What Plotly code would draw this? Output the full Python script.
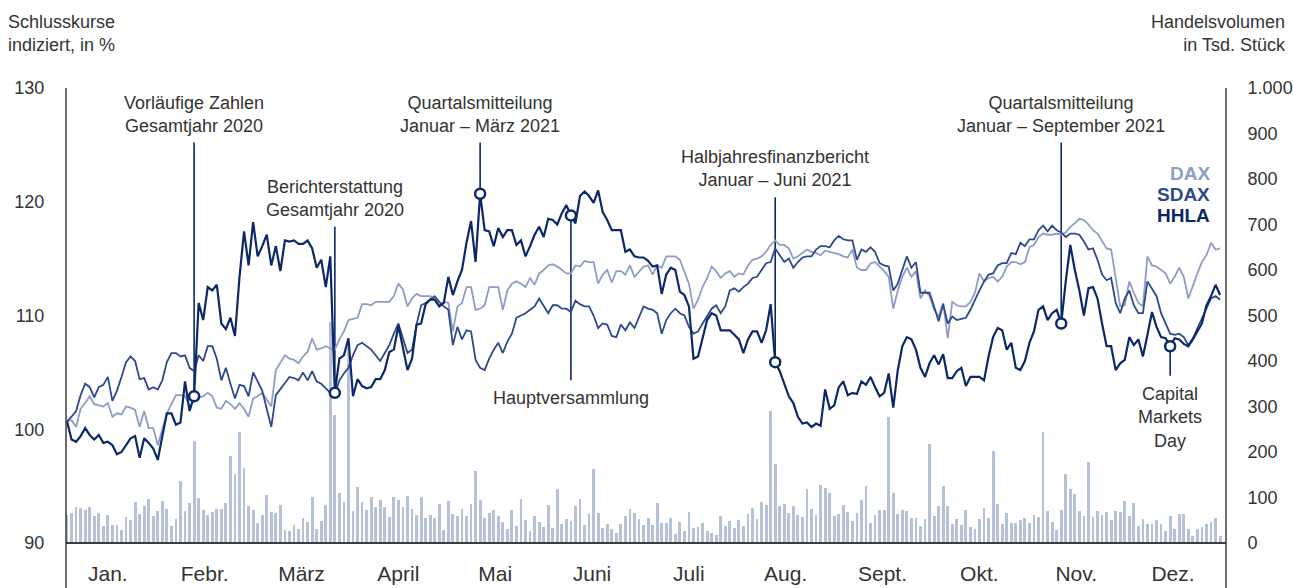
import plotly.graph_objects as go

# ---------------- data (index values in %, trading days of 2021) ----------------
hhla = [
    100.7, 99.1, 98.9, 99.4, 100.1, 99.5, 99.1, 99.5, 98.8, 98.9,
    98.6, 97.8, 98.0, 98.6, 99.2, 99.4, 97.5, 99.2, 98.8, 98.3,
    97.3, 99.4, 101.4, 101.4, 100.4, 100.6, 104.2, 101.6, 102.9, 111.1,
    109.6, 112.5, 112.2, 112.7, 109.3, 108.8, 109.8, 108.2, 113.4, 117.4,
    114.4, 118.2, 115.2, 116.1, 117.1, 114.4, 116.1, 113.9, 116.6, 116.5,
    116.6, 116.3, 116.3, 116.6, 115.9, 114.2, 114.9, 112.5, 115.2, 103.2,
    106.2, 106.5, 108.0, 102.9, 104.4, 103.8, 103.6, 103.7, 104.4, 104.4,
    105.2, 106.8, 107.0, 109.1, 107.3, 105.2, 106.2, 109.2, 109.3, 111.0,
    111.4, 111.4, 110.8, 111.1, 113.4, 111.8, 113.0, 114.0, 116.4, 118.3,
    114.7, 120.7, 117.5, 117.4, 116.1, 117.7, 116.9, 117.5, 117.5, 116.2,
    116.6, 115.2, 116.1, 117.1, 117.8, 116.9, 118.5, 118.4, 118.0, 119.0,
    119.7, 118.8, 118.1, 120.5, 120.9, 120.5, 119.9, 121.0, 119.1, 118.4,
    117.5, 117.5, 117.5, 115.6, 115.8, 115.2, 115.1, 115.1, 114.8, 114.3,
    114.4, 111.9, 113.6, 114.2, 114.0, 112.1, 111.8, 110.8, 106.2, 106.4,
    108.1, 109.6, 110.2, 110.0, 108.7, 108.7, 108.7, 108.3, 107.9, 106.7,
    107.9, 108.6, 108.6, 107.6, 108.7, 111.0, 105.9, 105.1, 104.0, 102.9,
    102.3, 101.1, 100.5, 100.6, 100.2, 100.5, 100.3, 103.5, 101.8, 102.1,
    103.7, 104.2, 103.0, 103.2, 103.1, 104.2, 103.9, 104.6, 103.7, 102.9,
    103.2, 104.9, 101.9, 105.2, 107.3, 108.1, 107.9, 107.0, 105.4, 104.6,
    105.8, 106.5, 105.7, 106.6, 104.5, 104.5, 105.1, 105.4, 103.8, 104.6,
    104.6, 104.6, 104.3, 106.4, 108.1, 108.9, 108.7, 107.0, 107.6, 105.4,
    105.2, 106.0, 107.6, 108.6, 110.5, 110.8, 109.6, 110.2, 110.5, 109.3,
    113.0, 116.2, 114.0, 112.2, 110.0, 112.4, 112.5, 111.5, 109.3, 107.3,
    107.3, 105.2, 105.8, 106.1, 108.1, 107.4, 107.9, 106.4, 108.3, 110.3,
    109.0, 108.1, 108.0, 107.3, 108.0, 107.9, 107.5, 107.3, 107.9, 108.6,
    109.3, 110.9, 111.7, 112.7, 111.8,
]

sdax = [
    100.7, 101.1, 101.6, 103.0, 104.0, 103.7, 102.8, 103.7, 103.9, 104.6,
    102.5, 103.4, 104.6, 105.9, 106.4, 106.0, 104.4, 104.5, 103.5, 103.7,
    103.5, 104.3, 105.9, 106.7, 106.7, 106.4, 106.5, 105.4, 105.1, 106.5,
    106.0, 107.3, 107.3, 106.2, 104.3, 105.4, 104.0, 102.7, 103.9, 103.8,
    102.9, 105.0, 104.2, 103.4, 101.8, 100.2, 103.0, 103.5, 104.1, 104.6,
    104.5, 104.3, 105.0, 104.3, 105.1, 104.2, 104.0, 103.6, 103.2, 103.0,
    104.3, 104.9, 105.4, 106.5, 107.4, 107.6, 107.3, 107.0, 106.5, 106.0,
    106.7, 107.4, 108.4, 109.3, 108.0, 106.7, 107.0, 109.2, 110.9, 111.1,
    111.4, 111.7, 111.2, 110.8, 110.5, 107.4, 109.0, 107.9, 108.7, 108.6,
    106.1, 105.4, 105.2, 106.2, 107.0, 107.6, 106.7, 107.7, 108.4, 109.8,
    110.0, 110.2, 110.5, 110.8, 111.5, 110.8, 110.2, 110.9, 110.9, 110.6,
    110.6, 110.3, 111.3, 111.0, 110.8, 110.8, 110.0, 108.9, 109.3, 109.2,
    108.2, 108.1, 109.2, 108.7, 109.4, 108.9, 109.8, 110.8, 110.6, 110.5,
    110.2, 108.4, 109.6, 110.2, 110.6, 110.2, 110.0, 109.0, 108.4, 108.6,
    109.3, 109.9, 110.6, 110.9, 110.2, 110.8, 112.2, 112.4, 112.1, 112.5,
    112.8, 113.3, 113.4, 114.0, 114.6, 114.7, 115.9, 115.3, 114.7, 115.0,
    114.2, 114.7, 115.1, 115.2, 115.2, 115.8, 116.1, 116.1, 116.0, 116.6,
    117.0, 116.7, 116.6, 116.6, 114.9, 115.8, 115.6, 116.0, 115.6, 114.6,
    114.4, 114.3, 112.2, 112.8, 114.0, 115.2, 114.2, 114.7, 112.0, 112.0,
    112.0, 110.8, 109.5, 111.0, 109.3, 109.9, 109.6, 109.7, 109.8, 110.5,
    111.4, 112.2, 113.0, 113.6, 113.7, 114.4, 114.6, 114.6, 115.5, 115.4,
    116.4, 116.1, 116.7, 116.7, 117.5, 117.9, 117.4, 117.9, 117.5, 117.3,
    116.9, 117.2, 117.2, 117.1, 116.5, 115.8, 115.9, 114.9, 113.6, 113.1,
    113.3, 111.1, 110.2, 111.5, 112.2, 110.9, 110.2, 110.2, 113.0, 112.4,
    111.7, 110.2, 109.3, 108.4, 108.3, 108.4, 108.1, 107.4, 108.0, 108.9,
    109.8, 110.6, 111.5, 111.7, 111.4,
]

dax = [
    100.7, 100.8, 100.2, 101.8, 102.3, 102.9, 102.2, 102.1, 102.0, 102.3,
    101.1, 101.4, 101.3, 102.0, 101.9, 101.7, 100.2, 101.6, 100.1, 100.1,
    98.6, 100.0, 101.4, 102.2, 103.0, 103.0, 102.9, 102.0, 102.6, 102.8,
    102.9, 103.2, 102.9, 101.9, 101.8, 102.5, 102.2, 101.8, 102.3, 101.8,
    101.1, 102.7, 102.9, 103.2, 102.6, 102.0, 105.2, 105.8, 106.5, 106.2,
    106.1, 105.8, 106.4, 106.8, 108.0, 107.0, 107.1, 107.3, 107.1, 107.0,
    107.9, 108.6, 109.6, 109.7, 109.8, 111.0, 111.0, 110.9, 111.2, 111.2,
    111.2, 111.2, 111.7, 112.8, 112.3, 110.8, 111.5, 111.9, 111.7, 111.7,
    111.7, 111.4, 110.9, 111.2, 111.1, 108.6, 110.8, 111.1, 112.5, 112.5,
    110.5, 110.6, 110.9, 112.5, 112.5, 112.5, 110.5, 112.2, 112.8, 113.0,
    112.8, 112.5, 113.3, 112.7, 113.7, 114.0, 114.4, 114.5, 114.3, 114.0,
    113.7, 113.7, 114.4, 114.3, 114.8, 114.7, 114.7, 112.8, 113.6, 114.0,
    112.9, 113.9, 113.9, 113.6, 114.4, 113.4, 113.9, 114.3, 114.4, 113.6,
    114.4, 114.2, 115.2, 115.2, 115.2, 114.9, 113.9, 112.8, 110.6, 111.4,
    112.5, 113.3, 114.3, 113.9, 113.3, 113.7, 113.9, 113.4, 113.7, 113.6,
    114.4, 114.9, 115.0, 115.2, 115.6, 116.2, 116.6, 116.2, 116.2, 115.9,
    115.0, 115.2, 115.5, 115.8, 115.6, 115.5, 115.3, 115.7, 115.6, 115.5,
    115.4, 115.2, 115.1, 115.8, 114.2, 114.0, 114.0, 114.6, 114.7, 114.3,
    113.9, 113.4, 110.6, 112.2, 113.4, 114.2, 113.4, 113.9, 111.5, 112.2,
    111.7, 110.5, 109.9, 111.1, 108.0, 111.2, 110.9, 110.8, 110.8, 111.2,
    112.0, 113.7, 113.0, 113.3, 113.4, 113.0, 113.4, 114.3, 114.7, 114.7,
    114.5, 114.7, 116.0, 116.2, 116.9, 117.2, 117.1, 117.1, 117.2, 117.1,
    117.3, 117.8, 118.1, 118.5, 118.4, 118.0, 117.5, 117.2, 116.5, 115.9,
    115.8, 113.3, 110.8, 110.9, 113.0, 112.0, 111.1, 110.8, 115.2, 114.4,
    114.3, 114.0, 113.7, 112.8, 113.4, 114.2, 113.4, 111.5, 112.7, 113.7,
    114.7, 115.3, 116.4, 115.8, 115.9,
]

# trading volume HHLA, thousand shares
volume = [
    61.5, 66.7, 78.4, 76.2, 72.5, 78.4, 59.3, 65.2, 37.4, 61.5,
    39.6, 39.6, 28.6, 57.9, 50.5, 89.4, 63.7, 81.3, 96.7, 59.3,
    71.1, 92.3, 73.9, 37.4, 52.0, 137, 70.3, 88.6, 224, 100,
    72.5, 61.5, 68.8, 73.9, 73.9, 88.6, 191, 151.6, 244.7, 164,
    81.3, 72.5, 43.2, 61.5, 105.5, 68.1, 65.9, 82.8, 28.6, 27.1,
    39.6, 30.0, 54.2, 46.9, 100.4, 30.8, 49.1, 82.8, 486, 281,
    109, 90.8, 431, 70.3, 122, 90.8, 73.3, 100.4, 79.9, 94.5,
    79.9, 57.9, 101.9, 94.5, 79.9, 103.3, 75.5, 61.5, 101.9, 54.2,
    61.5, 54.2, 86.5, 28.6, 92.3, 64.4, 58.6, 75.5, 58.6, 85,
    157.5, 93.8, 55.7, 65.9, 73.3, 58.6, 46.2, 30, 71.8, 37.4,
    95.9, 50.5, 27.1, 58.6, 46.2, 35.2, 82.8, 33, 119.4, 41.2,
    52, 49.1, 80.6, 95.9, 39.6, 64.4, 163.4, 66.7, 33, 41.8,
    31.5, 22, 41.8, 58.6, 75.5, 65.9, 52, 39.6, 54.2, 39.6,
    88.6, 44.7, 44.7, 55.7, 19.1, 46.2, 27.1, 68.1, 33.7, 35.2,
    44.7, 27.1, 22.7, 17.6, 58.6, 37.4, 49.1, 33.7, 50.5, 37.4,
    64.4, 77.6, 52, 90.8, 82.8, 289.4, 174.4, 80.6, 85, 66.7,
    80.6, 60.8, 57.9, 119.4, 74, 60.8, 126.7, 121.6, 109.9, 58.6,
    63, 82.8, 68.1, 49.1, 65.9, 93.8, 124.5, 44.7, 61.5, 71.8,
    71.8, 277.7, 109.9, 64.4, 71.8, 70.3, 54.2, 54.2, 37.4, 52,
    216.9, 59.3, 80.6, 124.5, 80.6, 41.8, 52, 39.6, 71.8, 35.2,
    30, 52, 77.6, 55.7, 202.2, 86.5, 41.8, 66.7, 44.7, 44.7,
    50.5, 54.2, 43.2, 61.5, 57.2, 244.7, 70.3, 46.2, 28.6, 71.8,
    151.6, 117.9, 106.9, 70.3, 58.6, 178.8, 57.2, 69.6, 61.5, 67.4,
    50.5, 70.3, 67.4, 92.3, 58.6, 88.6, 37.4, 52, 41.8, 41.8,
    50.5, 41.8, 26.4, 58.6, 30, 63, 64.4, 30, 16.1, 30,
    34.4, 41.8, 46.9, 55.7, 16.1,
]

months = ["Jan.", "Febr.", "März", "April", "Mai", "Juni",
          "Juli", "Aug.", "Sept.", "Okt.", "Nov.", "Dez."]
price_ticks = [90, 100, 110, 120, 130]
volume_ticks = [0, 100, 200, 300, 400, 500, 600, 700, 800, 900, 1000]
volume_ticklabels = ["0", "100", "200", "300", "400", "500", "600",
                     "700", "800", "900", "1.000"]

# events: label, trading day, end of connector line (index %), label centre (index %)
events = [
    ("Vorläufige Zahlen<br>Gesamtjahr 2020", 28, 125.2, 127.7),
    ("Berichterstattung<br>Gesamtjahr 2020", 59, 117.8, 120.3),
    ("Quartalsmitteilung<br>Januar – März 2021", 91, 125.2, 127.7),
    ("Hauptversammlung", 111, 104.3, 102.75),
    ("Halbjahresfinanzbericht<br>Januar – Juni 2021", 156, 120.4, 122.9),
    ("Quartalsmitteilung<br>Januar – September 2021", 219, 125.2, 127.7),
    ("Capital<br>Markets<br>Day", 243, 104.7, 101.0),
]

# ---------------- styling ----------------
C_DAX = "#8d9dc5"
C_SDAX = "#2e4a8c"
C_HHLA = "#0c2868"
C_BAR = "#b5c1d9"
C_TEXT = "#333333"
C_AXIS = "#3c3c3c"
FONT = "Liberation Sans, Arial, sans-serif"

days = list(range(len(hhla)))
n_months = len(months)
month_pos = [9.0 + i * 21.33 for i in range(n_months)]

fig = go.Figure()

fig.add_trace(go.Bar(x=list(range(len(volume))), y=volume, yaxis="y",
                     marker=dict(color=C_BAR, line=dict(width=0)),
                     width=0.62, hoverinfo="skip", name="Volumen"))

fig.add_trace(go.Scatter(x=days, y=dax, yaxis="y2", mode="lines",
                         line=dict(color=C_DAX, width=1.8), name="DAX"))
fig.add_trace(go.Scatter(x=days, y=sdax, yaxis="y2", mode="lines",
                         line=dict(color=C_SDAX, width=1.8), name="SDAX"))
fig.add_trace(go.Scatter(x=days, y=hhla, yaxis="y2", mode="lines",
                         line=dict(color=C_HHLA, width=2.2), name="HHLA"))

ev_x = [e[1] for e in events]
ev_y = [hhla[e[1]] for e in events]
fig.add_trace(go.Scatter(x=ev_x, y=ev_y, yaxis="y2", mode="markers",
                         marker=dict(symbol="circle", size=10, color="white",
                                     line=dict(color=C_HHLA, width=2.5)),
                         hoverinfo="skip", name="Ereignisse"))

shapes = []
annotations = []
for text, day, end, lab in events:
    shapes.append(dict(type="line", xref="x", yref="y2", x0=day, x1=day,
                       y0=hhla[day], y1=end, layer="below",
                       line=dict(color=C_HHLA, width=1.6)))
    annotations.append(dict(x=day, y=lab, xref="x", yref="y2", text=text,
                            showarrow=False, xanchor="center", yanchor="middle",
                            align="center",
                            font=dict(family=FONT, size=18, color=C_TEXT)))

# axis frame lines
shapes += [
    dict(type="line", xref="paper", yref="paper", x0=0, x1=0, y0=-0.1, y1=1,
         line=dict(color=C_AXIS, width=1.5)),
    dict(type="line", xref="paper", yref="paper", x0=1, x1=1, y0=-0.1, y1=1,
         line=dict(color=C_AXIS, width=1.5)),
    dict(type="line", xref="paper", yref="paper", x0=0, x1=1, y0=0, y1=0,
         line=dict(color=C_AXIS, width=2)),
]

# axis titles
annotations += [
    dict(x=-0.0517, y=1.12, xref="paper", yref="paper", xanchor="left",
         yanchor="middle", align="left", showarrow=False,
         text="Schlusskurse<br>indiziert, in %",
         font=dict(family=FONT, size=18, color=C_TEXT)),
    dict(x=1.0534, y=1.12, xref="paper", yref="paper", xanchor="right",
         yanchor="middle", align="right", showarrow=False,
         text="Handelsvolumen<br>in Tsd. Stück",
         font=dict(family=FONT, size=18, color=C_TEXT)),
]

# legend as coloured text
for name, color, yy in [("DAX", C_DAX, 0.813), ("SDAX", C_SDAX, 0.767),
                        ("HHLA", C_HHLA, 0.719)]:
    annotations.append(dict(x=0.988, y=yy, xref="paper", yref="paper",
                            xanchor="right", yanchor="middle", showarrow=False,
                            text="<b>" + name + "</b>",
                            font=dict(family=FONT, size=19, color=color)))

fig.update_layout(
    width=1293, height=588,
    margin=dict(l=66, r=67, t=88, b=45, autoexpand=False),
    paper_bgcolor="white", plot_bgcolor="white",
    showlegend=False, bargap=0,
    font=dict(family=FONT, size=18, color=C_TEXT),
    xaxis=dict(range=[-0.22, 255.3], showgrid=False, zeroline=False,
               showline=False, automargin=False,
               tickvals=month_pos, ticktext=months,
               ticks="outside", ticklen=12, tickcolor="rgba(0,0,0,0)",
               tickfont=dict(family=FONT, size=21, color=C_TEXT)),
    yaxis=dict(range=[0, 1000], side="right", showgrid=False, zeroline=False,
               showline=False, automargin=False,
               tickvals=volume_ticks, ticktext=volume_ticklabels,
               ticks="outside", ticklen=17, tickcolor="rgba(0,0,0,0)",
               tickfont=dict(family=FONT, size=18, color=C_TEXT)),
    yaxis2=dict(range=[90, 130], side="left", overlaying="y", showgrid=False,
                zeroline=False, showline=False, automargin=False,
                tickvals=price_ticks,
                ticks="outside", ticklen=17, tickcolor="rgba(0,0,0,0)",
                tickfont=dict(family=FONT, size=18, color=C_TEXT)),
    shapes=shapes,
    annotations=annotations,
)

fig.write_html("out.html",
               config={"displayModeBar": False},
               post_script="document.body.style.margin='0px';"
                           "document.body.style.padding='0px';")
